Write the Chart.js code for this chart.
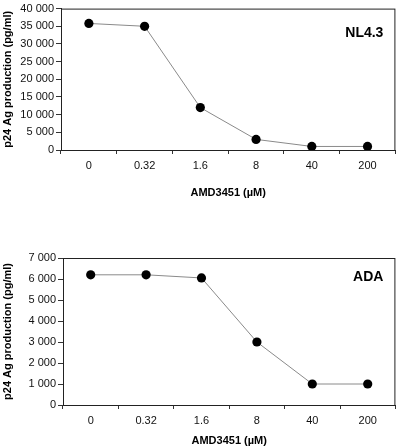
<!DOCTYPE html>
<html>
<head>
<meta charset="utf-8">
<script src="https://cdn.jsdelivr.net/npm/chart.js@4/dist/chart.umd.min.js"></script>
<style>
  html, body { margin: 0; padding: 0; background: #fff; }
  #wrap { position: relative; width: 400px; height: 448px; }
  #chart_nl43 { position: absolute; left: 0; top: 0; }
  #chart_ada { position: absolute; left: 0; top: 248px; }
</style>
</head>
<body>
<div id="wrap">
  <canvas id="chart_nl43" width="400" height="200"></canvas>
  <canvas id="chart_ada" width="400" height="200"></canvas>
</div>
<script>
const doses = ['0', '0.32', '1.6', '8', '40', '200'];
const nl43Values = [35800, 35000, 12000, 3000, 1000, 1000];
const adaValues = [6200, 6200, 6050, 3000, 1000, 1000];
const nl43Axis = [0, 40000, 5000]; // min, max, step
const adaAxis = [0, 7000, 1000];

const font = 'Liberation Sans, Arial, sans-serif';

// box round the plot area and the strain name
const framePlugin = {
    id: 'frame',
    afterDraw(chart) {
        const a = chart.chartArea;
        const ctx = chart.ctx;
        const opts = chart.options.plugins.frame;
        ctx.save();
        ctx.strokeStyle = '#222';
        ctx.lineWidth = 1;
        ctx.strokeRect(a.left + 0.5, a.top + 0.5, a.right - a.left - 1, a.bottom - a.top);
        ctx.fillStyle = '#000';
        ctx.font = 'bold 14px ' + font;
        ctx.textAlign = 'right';
        ctx.textBaseline = 'middle';
        ctx.fillText(opts.name, a.right - 12, a.top + opts.nameY);
        ctx.restore();
    }
};

function makeChart(id, values, axis, name, padTop, xHeight, yWidth, nameY) {
    return new Chart(document.getElementById(id), {
        type: 'line',
        data: {
            labels: doses,
            datasets: [{
                data: values,
                borderColor: '#8a8a8a',
                borderWidth: 1,
                pointRadius: 4.6,
                pointBackgroundColor: '#000',
                pointBorderColor: '#000',
                pointBorderWidth: 0,
                tension: 0
            }]
        },
        options: {
            responsive: false,
            animation: false,
            layout: { padding: { top: padTop, right: 1, left: 0, bottom: 0 } },
            plugins: {
                legend: { display: false },
                tooltip: { enabled: false },
                frame: { name: name, nameY: nameY }
            },
            scales: {
                x: {
                    offset: true,
                    grid: { offset: true, drawOnChartArea: false, drawTicks: true, tickLength: 4, color: '#333' },
                    border: { color: '#222' },
                    ticks: { color: '#111', font: { family: font, size: 11 }, padding: 5, maxRotation: 0 },
                    title: { display: true, text: 'AMD3451 (µM)', color: '#000', font: { family: font, size: 11, weight: 'bold' }, padding: 0 },
                    afterFit(scale) { scale.height = xHeight; }
                },
                y: {
                    min: axis[0],
                    max: axis[1],
                    grid: { drawOnChartArea: false, drawTicks: true, tickLength: 5, color: '#333' },
                    border: { color: '#222' },
                    ticks: {
                        stepSize: axis[2],
                        color: '#111',
                        padding: 2,
                        font: { family: font, size: 11 },
                        callback: v => v.toLocaleString('en-US').replace(/,/g, ' ')
                    },
                    title: { display: true, text: 'p24 Ag production (pg/ml)', color: '#000', font: { family: font, size: 11, weight: 'bold' }, padding: { top: 1, bottom: 0 } },
                    afterFit(scale) { scale.width = yWidth; }
                }
            }
        },
        plugins: [framePlugin]
    });
}

makeChart('chart_nl43', nl43Values, nl43Axis, 'NL4.3', 3, 50, 61, 25);
makeChart('chart_ada', adaValues, adaAxis, 'ADA', 10, 43, 63, 19);
</script>
</body>
</html>
